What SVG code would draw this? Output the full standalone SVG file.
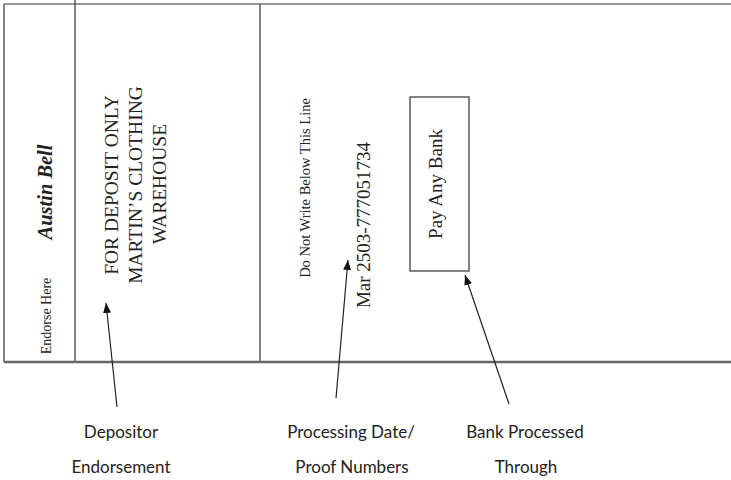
<svg xmlns="http://www.w3.org/2000/svg" width="731" height="480" viewBox="0 0 731 480">
<style>
.frame{stroke:#333;stroke-width:1.2;fill:none}
.serif{font-family:"Liberation Serif","Times New Roman",serif;fill:#222}
.sans{font-family:Lato,"Open Sans","Liberation Sans",sans-serif;fill:#222;font-size:17px;text-anchor:middle}
.conn{stroke:#222;stroke-width:1.2;fill:none;marker-end:url(#ah)}
</style>
<defs>
<marker id="ah" viewBox="0 0 10 10" refX="10" refY="5" markerWidth="10" markerHeight="10" markerUnits="userSpaceOnUse" orient="auto">
<path d="M0,1 L10,5 L0,9 z" fill="#111"/>
</marker>
</defs>
<rect width="731" height="480" fill="#fff"/>
<g id="frame">
<line class="frame" x1="4" y1="4" x2="731" y2="4" stroke-width="2"/>
<line class="frame" x1="4" y1="4" x2="4" y2="362"/>
<line class="frame" x1="75" y1="0" x2="75" y2="362"/>
<line class="frame" x1="260" y1="4" x2="260" y2="362"/>
<line x1="4" y1="362" x2="731" y2="362" stroke="#666" stroke-width="2.5"/>
</g>
<g id="endorse-here">
<text class="serif" font-size="14" text-anchor="middle" transform="translate(51,316) rotate(-90)">Endorse Here</text>
</g>
<g id="signature">
<text class="serif" font-size="22" font-weight="bold" font-style="italic" text-anchor="middle" textLength="95" lengthAdjust="spacingAndGlyphs" transform="translate(52,192) rotate(-90)">Austin Bell</text>
</g>
<g id="deposit-endorsement">
<text class="serif" font-size="19.5" text-anchor="middle" transform="translate(118,185) rotate(-90)">FOR DEPOSIT ONLY</text>
<text class="serif" font-size="19.5" text-anchor="middle" transform="translate(142,185) rotate(-90)">MARTIN’S CLOTHING</text>
<text class="serif" font-size="19.5" text-anchor="middle" transform="translate(166,184) rotate(-90)">WAREHOUSE</text>
</g>
<g id="do-not-write">
<text class="serif" font-size="14.5" text-anchor="middle" transform="translate(310,188) rotate(-90)">Do Not Write Below This Line</text>
</g>
<g id="proof-number">
<text class="serif" font-size="19" text-anchor="middle" transform="translate(370,225) rotate(-90)">Mar 2503-777051734</text>
</g>
<g id="pay-any-bank">
<rect x="410" y="97" width="59" height="174" fill="none" stroke="#333" stroke-width="1.2"/>
<text class="serif" font-size="19" text-anchor="middle" transform="translate(442,184) rotate(-90)">Pay Any Bank</text>
</g>
<g id="connectors">
<line class="conn" x1="117" y1="407" x2="106" y2="303"/>
<line class="conn" x1="336" y1="398" x2="348" y2="260"/>
<line class="conn" x1="509" y1="404" x2="465" y2="275"/>
</g>
<g id="label-depositor">
<text class="sans" x="121" y="438">Depositor</text>
<text class="sans" x="121" y="473">Endorsement</text>
</g>
<g id="label-processing">
<text class="sans" x="351" y="438">Processing Date/</text>
<text class="sans" x="352" y="473">Proof Numbers</text>
</g>
<g id="label-bank">
<text class="sans" x="525" y="438">Bank Processed</text>
<text class="sans" x="526" y="473">Through</text>
</g>
</svg>
